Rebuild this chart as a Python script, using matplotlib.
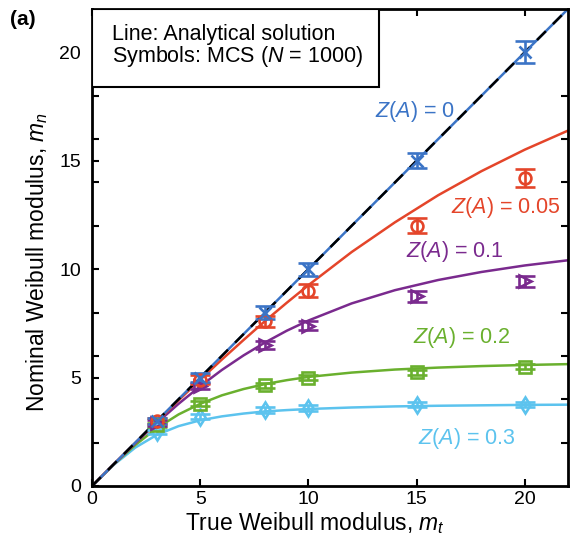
import matplotlib
matplotlib.use('Agg')
import matplotlib.pyplot as plt
from matplotlib.patches import Rectangle

plt.rcParams['font.family'] = ['Liberation Sans', 'DejaVu Sans']
plt.rcParams['mathtext.fontset'] = 'custom'
plt.rcParams['mathtext.it'] = 'Liberation Sans:italic'
plt.rcParams['mathtext.rm'] = 'Liberation Sans'

# MCS symbols
m_true = [3, 5, 8, 10, 15, 20]
mcs_z0 = [3.0, 5.0, 8.0, 10.0, 15.0, 20.0]
mcs_z005 = [3.0, 4.9, 7.6, 9.0, 12.0, 14.2]
mcs_z01 = [2.9, 4.6, 6.5, 7.4, 8.75, 9.45]
mcs_z02 = [2.8, 3.8, 4.65, 5.0, 5.25, 5.5]
mcs_z03 = [2.5, 3.2, 3.5, 3.6, 3.75, 3.75]
err_z0 = [0.15, 0.2, 0.3, 0.3, 0.35, 0.5]
err_z005 = [0.15, 0.2, 0.25, 0.3, 0.35, 0.4]
err_z01 = [0.12, 0.15, 0.2, 0.2, 0.25, 0.25]
err_z02 = [0.1, 0.1, 0.12, 0.12, 0.12, 0.12]
err_z03 = [0.1, 0.1, 0.12, 0.12, 0.12, 0.12]

# analytical curves
m_line = [0, 1, 2, 3, 4, 5, 6, 7, 8, 9, 10, 12, 14, 16, 18, 20, 22]
line_z0 = [0, 1, 2, 3, 4, 5, 6, 7, 8, 9, 10, 12, 14, 16, 18, 20, 22]
line_z005 = [0, 1.0, 1.99, 2.98, 3.95, 4.90, 5.83, 6.73, 7.61, 8.45, 9.26,
             10.79, 12.16, 13.41, 14.52, 15.51, 16.39]
line_z01 = [0, 1.0, 1.97, 2.91, 3.79, 4.60, 5.35, 6.02, 6.62, 7.16, 7.63,
            8.42, 9.03, 9.50, 9.87, 10.17, 10.41]
line_z02 = [0, 0.99, 1.89, 2.67, 3.30, 3.79, 4.18, 4.47, 4.70, 4.88, 5.03,
            5.23, 5.37, 5.46, 5.53, 5.58, 5.62]
line_z03 = [0, 0.97, 1.77, 2.36, 2.76, 3.03, 3.21, 3.34, 3.44, 3.50, 3.55,
            3.62, 3.67, 3.70, 3.72, 3.74, 3.75]

c_blue = '#3b74c6'
c_red = '#e4452a'
c_purple = '#7a2a8e'
c_green = '#6ab02e'
c_lblue = '#5cc3ee'

fig = plt.figure(figsize=(5.73, 5.5), dpi=100)
ax = fig.add_axes([0.1606, 0.1164, 0.8307, 0.8673])

lines = [(line_z03, c_lblue), (line_z02, c_green), (line_z01, c_purple),
         (line_z005, c_red), (line_z0, c_blue)]
for ys, c in lines:
    ax.plot(m_line, ys, color=c, lw=1.8, zorder=2)
ax.plot(m_line, line_z0, color='black', lw=1.8, dashes=(5, 4), zorder=3)

series = [(mcs_z03, err_z03, c_lblue, 'd'),
          (mcs_z02, err_z02, c_green, 's'),
          (mcs_z01, err_z01, c_purple, '>'),
          (mcs_z005, err_z005, c_red, 'o'),
          (mcs_z0, err_z0, c_blue, 'x')]
for ys, es, c, mk in series:
    ax.errorbar(m_true, ys, yerr=es, fmt=mk, color=c, mfc='none', mec=c,
                ms=8.5, mew=1.9, elinewidth=1.9, capsize=7.5, capthick=1.9,
                zorder=4)

fs = 15.5
ax.text(13.1, 17.25, r'$\mathit{Z(A)}$ = 0', color=c_blue, fontsize=fs, va='center')
ax.text(16.6, 12.86, r'$\mathit{Z(A)}$ = 0.05', color=c_red, fontsize=fs, va='center')
ax.text(14.5, 10.8, r'$\mathit{Z(A)}$ = 0.1', color=c_purple, fontsize=fs, va='center')
ax.text(14.83, 6.87, r'$\mathit{Z(A)}$ = 0.2', color=c_green, fontsize=fs, va='center')
ax.text(15.06, 2.21, r'$\mathit{Z(A)}$ = 0.3', color=c_lblue, fontsize=fs, va='center')

ax.add_patch(Rectangle((0, 0.836), 0.603, 0.164, transform=ax.transAxes,
                       facecolor='white', edgecolor='black', lw=1.5, zorder=5))
ax.text(0.042, 0.935, 'Line: Analytical solution', transform=ax.transAxes,
        fontsize=fs, va='baseline', zorder=6)
ax.text(0.042, 0.889, 'Symbols: MCS ($N$ = 1000)', transform=ax.transAxes,
        fontsize=fs, va='baseline', zorder=6)

ax.set_xlim(0, 22)
ax.set_ylim(0, 22)
ax.set_xticks([0, 5, 10, 15, 20])
ax.set_yticks([0, 5, 10, 15, 20])
ax.set_yticks([2, 4, 6, 8, 10, 12, 14, 16, 18, 20], minor=True)
ax.tick_params(which='major', direction='in', top=True, right=False,
               length=5, width=1.5, labelsize=14)
ax.tick_params(axis='y', which='major', pad=8)
ax.tick_params(which='minor', direction='in', left=True, right=True,
               length=5, width=1.5)
for s in ax.spines.values():
    s.set_linewidth(2)
ax.set_xlabel('True Weibull modulus, $m_t$', fontsize=16.5)
ax.set_ylabel('Nominal Weibull modulus, $m_n$', fontsize=16.5)
ax.xaxis.set_label_coords(0.468, -0.05)
ax.yaxis.set_label_coords(-0.088, 0.47)

fig.text(0.017, 0.964, '(a)', fontsize=15, fontweight='bold', va='center')

fig.savefig('out.png', dpi=100)
